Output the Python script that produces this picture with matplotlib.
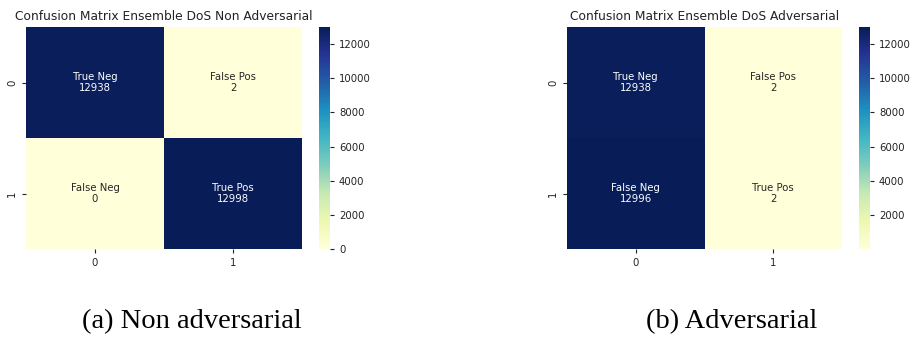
import numpy as np
import matplotlib
matplotlib.use("Agg")
import matplotlib.pyplot as plt
import seaborn as sns

# Confusion matrices for the ensemble DoS detector
cell_names = ["True Neg", "False Pos", "False Neg", "True Pos"]
counts_non_adv = [12938, 2, 0, 12998]
counts_adv = [12938, 2, 12996, 2]
class_labels = ["0", "1"]

titles = ["Confusion Matrix Ensemble DoS Non Adversarial",
          "Confusion Matrix Ensemble DoS Adversarial"]
captions = ["(a) Non adversarial", "(b) Adversarial"]

W, H = 912, 338
fig = plt.figure(figsize=(W / 100, H / 100), dpi=100)


def px_box(x0, x1, ytop, ybot):
    return [x0 / W, 1 - ybot / H, (x1 - x0) / W, (ybot - ytop) / H]


panels = [
    dict(counts=counts_non_adv, ax=px_box(26, 302, 27, 249),
         cax=px_box(319, 330, 27, 249), cap_x=192),
    dict(counts=counts_adv, ax=px_box(567, 842, 27, 249),
         cax=px_box(859, 870, 27, 249), cap_x=732),
]

small = 7.3
for p, title, caption in zip(panels, titles, captions):
    ax = fig.add_axes(p["ax"])
    cax = fig.add_axes(p["cax"])
    mat = np.array(p["counts"]).reshape(2, 2)
    annot = np.array([f"{n}\n{v}" for n, v in zip(cell_names, p["counts"])]).reshape(2, 2)
    sns.heatmap(mat, annot=annot, fmt="", cmap="YlGnBu", ax=ax, cbar_ax=cax,
                xticklabels=class_labels, yticklabels=class_labels,
                annot_kws={"fontsize": small})
    ax.set_title(title, fontsize=8.8, color="#222222", pad=5)
    ax.tick_params(labelsize=small, colors="#222222", length=3)
    cax.tick_params(labelsize=small, colors="#222222", length=3)
    fig.text(p["cap_x"] / W, 10 / H, caption, ha="center", va="baseline",
             fontsize=20.5, family="Liberation Serif", color="black")

fig.savefig("out.png", dpi=100)
